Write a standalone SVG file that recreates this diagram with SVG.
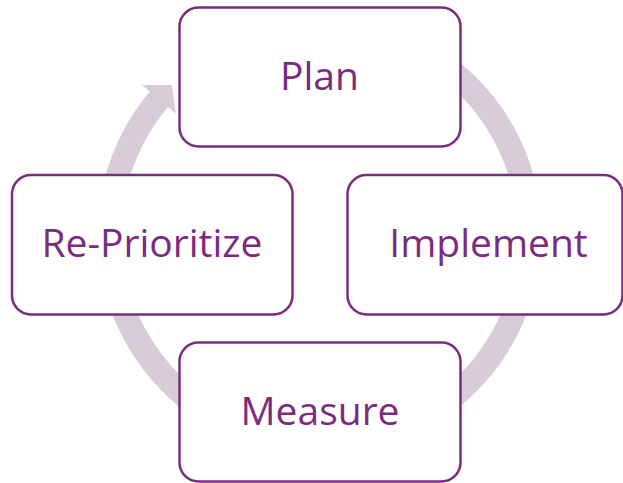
<svg xmlns="http://www.w3.org/2000/svg" width="623" height="483" viewBox="0 0 623 483">
  <style>
    .box { fill: #ffffff; stroke: #7B2C80; stroke-width: 2.5; }
    .label { font-family: "Open Sans", "Liberation Sans", sans-serif; font-size: 39px; fill: #7B2C80; text-anchor: middle; }
    .ring { fill: #D8CCD8; stroke: none; }
  </style>

  <!-- circular cycle arrow, clockwise, ending with an arrowhead beside Plan -->
  <g id="connectors">
    <path class="ring" d="M 319.5 12.5 A 222 222 0 1 1 149.7 91.5 L 142 85.1 L 172 85 L 175.7 113.4 L 168 107 A 198 198 0 1 0 319.5 36.5 Z"/>
  </g>

  <g id="plan">
    <rect class="box" x="179.5" y="7.5" width="281" height="139" rx="19" ry="19"/>
    <text class="label" x="319.5" y="89.5">Plan</text>
  </g>

  <g id="implement">
    <rect class="box" x="347.5" y="175" width="275" height="139.5" rx="19" ry="19"/>
    <text class="label" x="488.5" y="256.7">Implement</text>
  </g>

  <g id="measure">
    <rect class="box" x="179.5" y="342.5" width="281" height="139" rx="19" ry="19"/>
    <text class="label" x="320" y="425">Measure</text>
  </g>

  <g id="re-prioritize">
    <rect class="box" x="12" y="175" width="280.5" height="139.5" rx="19" ry="19"/>
    <text class="label" x="152" y="256.7">Re-Prioritize</text>
  </g>
</svg>
